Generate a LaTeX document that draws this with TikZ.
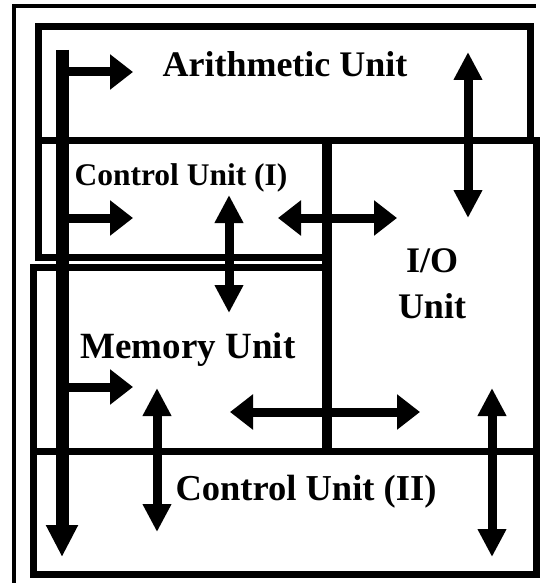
\documentclass[tikz,border=0pt]{standalone}
\usepackage{fontspec}
\setmainfont{Liberation Serif}
\usetikzlibrary{arrows.meta}
\tikzset{
  unitbox/.style={draw=black, line width=7pt},
  frameline/.style={draw=black, line width=3.5pt},
  busbar/.style={draw=black, line width=13pt, -{Triangle[length=32pt,width=30pt]}},
  harrow/.style={draw=black, line width=9pt, -{Triangle[length=23pt,width=34pt]}},
  hdarrow/.style={draw=black, line width=9pt, {Triangle[length=23pt,width=34pt]}-{Triangle[length=23pt,width=34pt]}},
  vdarrow/.style={draw=black, line width=9pt, {Triangle[length=28pt,width=27pt]}-{Triangle[length=28pt,width=27pt]}},
  labeltext/.style={font=\fontsize{#1}{#1}\selectfont\bfseries, inner sep=0pt, anchor=base}
}
\begin{document}
\begin{tikzpicture}[x=1pt,y=-1pt]
\useasboundingbox (0,0) rectangle (541,583);
\fill[white] (0,0) rectangle (541,583);
% outer frame
\coordinate (f1) at (14,583);
\coordinate (f2) at (14,6);
\coordinate (f3) at (536,6);
\draw[frameline] (f1) -- (f2) -- (f3);
% unit boxes
\draw[unitbox] (38,27) rectangle (530,140);   % arithmetic
\draw[unitbox] (38,140) rectangle (327,257);  % control I
\draw[unitbox] (33,267) rectangle (327,451);  % memory
\draw[unitbox] (327,140) rectangle (536,451); % I/O
\draw[unitbox] (33,451) rectangle (536,574);  % control II
\coordinate (ioL1) at (327,140);
\coordinate (ioL2) at (327,451);
\draw[draw=black, line width=10pt] (ioL1) -- (ioL2);
% labels
\node[labeltext=36] (au) at (285,77) {Arithmetic Unit};
\node[labeltext=31.5] (cu1) at (181,185) {Control Unit (I)};
\node[labeltext=37] (mu) at (188,358) {Memory Unit};
\node[labeltext=36] (io1) at (432,272) {I/O};
\node[labeltext=36] (io2) at (432,318) {Unit};
\node[labeltext=36.5] (cu2) at (306,500) {Control Unit (II)};
% arrow end points
\coordinate (busTop) at (62,50);
\coordinate (busBot) at (62,557);
\coordinate (a1s) at (62,72);  \coordinate (a1e) at (133,72);
\coordinate (a2s) at (62,218); \coordinate (a2e) at (133,218);
\coordinate (a3s) at (62,387); \coordinate (a3e) at (133,387);
\coordinate (v1a) at (229,195); \coordinate (v1b) at (229,313);
\coordinate (v2a) at (468,52);  \coordinate (v2b) at (468,218);
\coordinate (h1a) at (278,218); \coordinate (h1b) at (397,218);
\coordinate (h2a) at (230,412); \coordinate (h2b) at (420,412);
\coordinate (v3a) at (157,388); \coordinate (v3b) at (157,532);
\coordinate (v4a) at (492,388); \coordinate (v4b) at (492,557);
% arrows
\draw[harrow] (a1s) -- (a1e);
\draw[harrow] (a2s) -- (a2e);
\draw[harrow] (a3s) -- (a3e);
\draw[busbar] (busTop) -- (busBot);
\draw[vdarrow] (v1a) -- (v1b);
\draw[vdarrow] (v2a) -- (v2b);
\draw[hdarrow] (h1a) -- (h1b);
\draw[hdarrow] (h2a) -- (h2b);
\draw[vdarrow] (v3a) -- (v3b);
\draw[vdarrow] (v4a) -- (v4b);
\end{tikzpicture}
\end{document}
